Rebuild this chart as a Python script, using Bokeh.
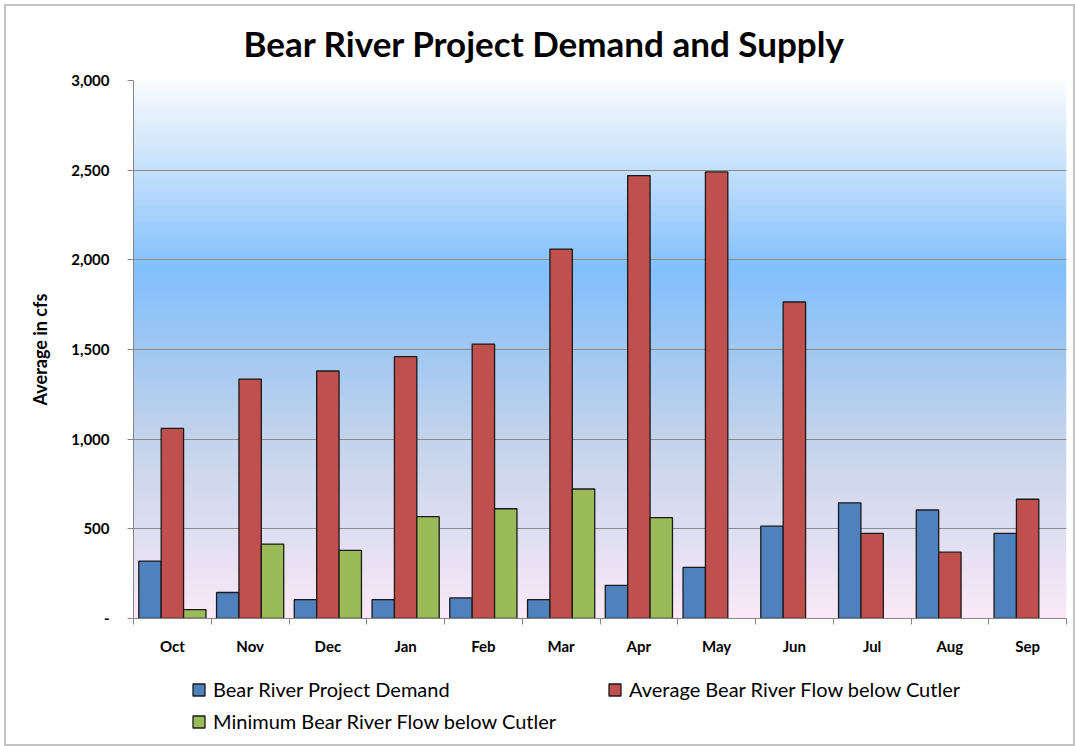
import numpy as np
from bokeh.plotting import figure
from bokeh.layouts import column
from bokeh.models import (Range1d, FixedTicker, NumeralTickFormatter, Legend, LegendItem, Title)
from bokeh.embed import file_html
from bokeh.resources import INLINE

months = ["Oct", "Nov", "Dec", "Jan", "Feb", "Mar", "Apr", "May", "Jun", "Jul", "Aug", "Sep"]
demand = [320, 145, 105, 105, 115, 105, 185, 285, 515, 645, 605, 475]
avg_flow = [1060, 1335, 1380, 1460, 1530, 2060, 2470, 2490, 1765, 475, 370, 665]
min_flow = [50, 415, 380, 568, 612, 722, 562, float("nan"), float("nan"), float("nan"), float("nan"), float("nan")]
series_names = ["Bear River Project Demand", "Average Bear River Flow below Cutler",
                "Minimum Bear River Flow below Cutler"]
series_colors = ["#4F81BD", "#C0504D", "#9BBB59"]
y_ticks = [0, 500, 1000, 1500, 2000, 2500, 3000]

# background gradient stops (value, rgb)
grad_stops = [(0, (251, 233, 248)), (500, (222, 222, 242)), (1000, (196, 212, 236)),
              (1500, (160, 200, 242)), (1950, (130, 192, 253)), (2500, (196, 224, 252)),
              (3000, (250, 252, 255))]

FONT = "Lato"
W, H1, H2 = 1067, 660, 78

p = figure(width=W, height=H1, output_backend="svg", toolbar_location=None,
           x_range=Range1d(-0.5, len(months) - 0.5), y_range=Range1d(0, 3000),
           min_border_left=127, min_border_right=7, min_border_top=74, min_border_bottom=48)
p.background_fill_color = "white"
p.border_fill_color = "white"
p.outline_line_color = None

# gradient
vals = np.linspace(0, 3000, 300)
sv = [s[0] for s in grad_stops]
img = np.zeros((len(vals), 1), dtype=np.uint32)
view = img.view(dtype=np.uint8).reshape((len(vals), 1, 4))
for c in range(3):
    view[:, 0, c] = np.interp(vals, sv, [s[1][c] for s in grad_stops]).astype(np.uint8)
view[:, 0, 3] = 255
p.image_rgba(image=[img], x=-0.5, y=0, dw=len(months), dh=3000, level="image")

x = np.arange(len(months))
bw = 0.288
series = [demand, avg_flow, min_flow]
for i, (vals_s, col) in enumerate(zip(series, series_colors)):
    p.vbar(x=x + (i - 1) * bw, top=vals_s, bottom=0, width=bw, fill_color=col,
           line_color="#1a1a1a", line_width=1.3)

# title
p.title = Title(text="Bear River Project Demand and Supply", align="left", offset=110,
                vertical_align="top", text_font=FONT, text_font_size="35px",
                text_font_style="bold", text_color="black", standoff=30)

# y axis
yax = p.yaxis[0]
yax.ticker = FixedTicker(ticks=y_ticks)
yax.formatter = NumeralTickFormatter(format="0,0")
yax.major_label_overrides = {0: "-"}
yax.major_label_text_font = FONT
yax.major_label_text_font_style = "bold"
yax.major_label_text_font_size = "15px"
yax.major_label_text_color = "black"
yax.major_label_standoff = 18
yax.major_tick_out = 6
yax.major_tick_in = 0
yax.minor_tick_out = 0
yax.minor_tick_in = 0
yax.axis_line_color = "#868686"
yax.major_tick_line_color = "#868686"
yax.axis_label = "Average in cfs"
yax.axis_label_text_font = FONT
yax.axis_label_text_font_style = "bold"
yax.axis_label_text_font_size = "18px"
yax.axis_label_text_color = "black"
yax.axis_label_standoff = 17

# x axis
xax = p.xaxis[0]
xax.ticker = FixedTicker(ticks=list(x), minor_ticks=list(np.arange(len(months) + 1) - 0.5))
xax.major_label_overrides = {int(i): m for i, m in enumerate(months)}
xax.major_label_text_font = FONT
xax.major_label_text_font_style = "bold"
xax.major_label_text_font_size = "15px"
xax.major_label_text_color = "black"
xax.major_tick_out = 0
xax.major_tick_in = 0
xax.minor_tick_out = 6
xax.minor_tick_in = 0
xax.major_label_standoff = 12
xax.axis_line_color = "#868686"
xax.minor_tick_line_color = "#868686"

p.xgrid.grid_line_color = None
p.ygrid.ticker = FixedTicker(ticks=y_ticks)
p.ygrid.grid_line_color = "#8a8a8a"
p.ygrid.grid_line_width = 1.2

# legend strip (separate figure so the legend is not clipped by the chart frame);
# its renderers are hidden, only the legend shows
lf = figure(width=W, height=H2, output_backend="svg", toolbar_location=None,
            x_range=Range1d(-0.5, len(months) - 0.5), y_range=Range1d(0, 3000),
            x_axis_type=None, y_axis_type=None,
            min_border=0, min_border_left=0, min_border_right=0, min_border_top=0, min_border_bottom=0)
lf.outline_line_color = None
lf.border_fill_color = "white"
lf.background_fill_color = "white"
lrs = [lf.vbar(x=x + (i - 1) * bw, top=s, bottom=0, width=bw, fill_color=c,
               line_color="#1a1a1a", line_width=1.3, visible=False)
       for i, (s, c) in enumerate(zip(series, series_colors))]
legend = Legend(items=[LegendItem(label=n, renderers=[r]) for n, r in zip(series_names, lrs)],
                location=(58, 11), orientation="horizontal", ncols=2,
                glyph_width=15, glyph_height=15, label_standoff=7, label_width=386,
                spacing=8, padding=0, margin=0, click_policy="none",
                label_text_font=FONT, label_text_font_size="20px", label_text_color="black",
                border_line_color=None, background_fill_alpha=0)
lf.add_layout(legend, "center")

layout = column(p, lf, spacing=0,
                styles={"margin": "4px 0 0 4px", "border": "2px solid #c4c4c4",
                        "background-color": "white"})

open("out.html", "w").write(file_html(layout, INLINE))
